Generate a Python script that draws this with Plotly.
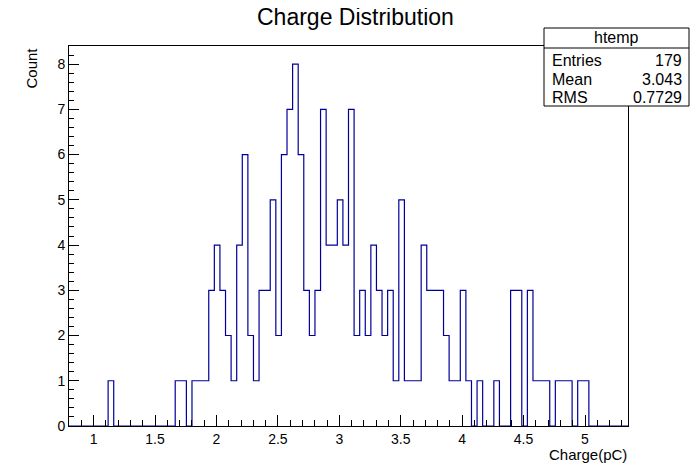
import plotly.graph_objects as go

# Histogram definition (ROOT htemp)
x_min = 0.8
x_max = 5.35
n_bins = 100
counts = [0]*100
filled = {7: 1, 19: 1, 20: 1, 22: 1, 23: 1, 24: 1, 25: 3, 26: 4, 27: 3, 28: 2, 29: 1,
          30: 4, 31: 6, 32: 2, 33: 1, 34: 3, 35: 3, 36: 5, 37: 2, 38: 6, 39: 7, 40: 8,
          41: 6, 42: 3, 43: 2, 44: 3, 45: 7, 46: 4, 47: 4, 48: 5, 49: 4, 50: 7, 51: 2,
          52: 3, 53: 2, 54: 4, 55: 3, 56: 2, 57: 3, 58: 1, 59: 5, 60: 1, 61: 1, 62: 1,
          63: 4, 64: 3, 65: 3, 66: 3, 67: 2, 68: 1, 69: 1, 70: 3, 71: 1, 73: 1, 76: 1,
          79: 3, 80: 3, 82: 3, 83: 1, 84: 1, 85: 1, 87: 1, 88: 1, 89: 1, 91: 1, 92: 1}
for k, v in filled.items():
    counts[k] = v

stats_name = "htemp"
stats_labels = ["Entries", "Mean", "RMS"]
stats_values = ["179", "3.043", "0.7729"]

title = "Charge Distribution"
x_title = "Charge(pC)"
y_title = "Count"

OFF = 8  # default page body margin
W, H = 698 - OFF, 474 - OFF
L, R, T, B = 69, 628, 46, 426  # frame in window pixels
FONT = "Liberation Sans, Arial, sans-serif"

bw = (x_max - x_min) / n_bins
edges = [x_min + i * bw for i in range(n_bins + 1)]
ys = counts + [counts[-1]]

fig = go.Figure()
fig.add_trace(go.Scatter(x=edges, y=ys, mode="lines", line_shape="hv",
                         line=dict(color="#000099", width=1.2), hoverinfo="skip",
                         showlegend=False))

def px(x):
    return (x - L) / (R - L)

def py(y):
    return (B - y) / (B - T)

fig.update_layout(
    width=W, height=H,
    margin=dict(l=L - OFF, r=W - (R - OFF), t=T - OFF, b=H - (B - OFF), pad=0),
    paper_bgcolor="white", plot_bgcolor="white",
    font=dict(family=FONT, size=14, color="black"),
    showlegend=False,
)
fig.update_xaxes(range=[x_min, x_max], showgrid=False, zeroline=False,
                 showline=True, linecolor="black", linewidth=1, mirror=True,
                 ticks="inside", ticklen=11, tickcolor="black", dtick=0.5, tick0=0,
                 minor=dict(dtick=0.1, ticklen=6, ticks="inside", tickcolor="black"),
                 tickfont=dict(size=14))
fig.update_yaxes(range=[0, 8.4], showgrid=False, zeroline=False,
                 showline=True, linecolor="black", linewidth=1, mirror=True,
                 ticks="inside", ticklen=10, tickcolor="black", dtick=1, tick0=0,
                 minor=dict(dtick=0.2, ticklen=5, ticks="inside", tickcolor="black"),
                 tickfont=dict(size=14))

anns = []
anns.append(dict(x=px(355), y=py(17), xref="paper", yref="paper", text=title,
                 showarrow=False, font=dict(size=23), xanchor="center", yanchor="middle"))
anns.append(dict(x=px(629), y=py(455), xref="paper", yref="paper", text=x_title,
                 showarrow=False, font=dict(size=15), xanchor="right", yanchor="middle"))
anns.append(dict(x=px(31), y=py(46), xref="paper", yref="paper", text=y_title,
                 showarrow=False, font=dict(size=15), textangle=-90,
                 xanchor="center", yanchor="top"))

# stats box
sx0, sx1, sy0, sy1, sh = 544, 689, 28, 106, 48
shapes = [
    dict(type="rect", xref="paper", yref="paper", x0=px(sx0), x1=px(sx1),
         y0=py(sy1), y1=py(sy0), line=dict(color="black", width=1), fillcolor="white"),
    dict(type="line", xref="paper", yref="paper", x0=px(sx0), x1=px(sx1),
         y0=py(sh), y1=py(sh), line=dict(color="black", width=1)),
]
anns.append(dict(x=px((sx0 + sx1) / 2), y=py(38), xref="paper", yref="paper",
                 text=stats_name, showarrow=False, font=dict(size=16),
                 xanchor="center", yanchor="middle"))
row_y = [60, 79, 97]
for lab, val, yy in zip(stats_labels, stats_values, row_y):
    anns.append(dict(x=px(550), y=py(yy), xref="paper", yref="paper", text=lab,
                     showarrow=False, font=dict(size=16), xanchor="left", yanchor="middle"))
    anns.append(dict(x=px(684), y=py(yy), xref="paper", yref="paper", text=val,
                     showarrow=False, font=dict(size=16), xanchor="right", yanchor="middle"))

fig.update_layout(annotations=anns, shapes=shapes)
fig.write_html("out.html")
